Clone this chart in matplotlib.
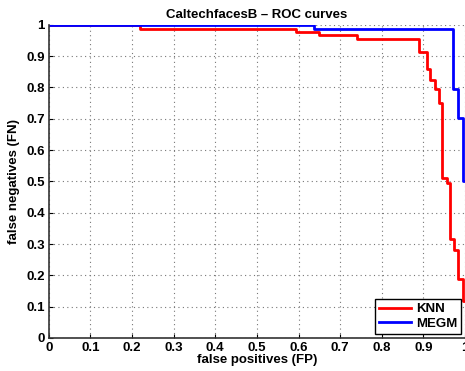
import matplotlib
matplotlib.use("Agg")
import matplotlib.pyplot as plt
import numpy as np

# ROC step curves (false positives vs false negatives)
knn_fp = [0, 0.219, 0.593, 0.649, 0.741, 0.889, 0.908, 0.917, 0.928, 0.937,
          0.945, 0.956, 0.965, 0.974, 0.983, 0.994, 1.0]
knn_fn = [1, 0.988, 0.978, 0.967, 0.955, 0.913, 0.858, 0.825, 0.795, 0.75,
          0.51, 0.494, 0.316, 0.281, 0.188, 0.119, 0.119]

megm_fp = [0, 0.638, 0.972, 0.982, 0.994, 1.0]
megm_fn = [1, 0.988, 0.795, 0.704, 0.5, 0.5]

ticks = np.round(np.arange(0, 1.01, 0.1), 1)
tick_labels = ['0'] + ['%.1f' % t for t in ticks[1:-1]] + ['1']

plt.rcParams['font.family'] = ['Liberation Sans', 'DejaVu Sans']
plt.rcParams['font.weight'] = 'bold'

fig = plt.figure(figsize=(4.65, 3.71), dpi=100)
ax = fig.add_axes([0.105, 0.089, 0.895, 0.844])

ax.plot(knn_fp, knn_fn, drawstyle='steps-post', color='#ff0000', lw=2, label='KNN')
ax.plot(megm_fp, megm_fn, drawstyle='steps-post', color='#0000ff', lw=2, label='MEGM')

ax.set_xlim(0, 1)
ax.set_ylim(0, 1)
ax.set_xticks(ticks)
ax.set_yticks(ticks)
ax.set_xticklabels(tick_labels, fontsize=9.5, fontweight='bold')
ax.set_yticklabels(tick_labels, fontsize=9.5, fontweight='bold')
ax.tick_params(direction='in', length=3, pad=3)
ax.grid(True, linestyle=(0, (1, 3)), color='#777777', lw=0.8)

for s in ['top', 'right']:
    ax.spines[s].set_visible(False)
for s in ['left', 'bottom']:
    ax.spines[s].set_linewidth(1.2)
    ax.spines[s].set_color('#333333')

ax.set_title('CaltechfacesB \u2013 ROC curves', fontsize=9.5, fontweight='bold', pad=5)
ax.set_xlabel('false positives (FP)', fontsize=9.5, fontweight='bold', labelpad=0)
ax.set_ylabel('false negatives (FN)', fontsize=9.5, fontweight='bold', labelpad=4)

leg = ax.legend(loc='lower right', fontsize=9.5, handlelength=2.4, borderpad=0.3,
                labelspacing=0.2, fancybox=False, framealpha=1, edgecolor='black',
                borderaxespad=0.3, handletextpad=0.4)
leg.get_frame().set_linewidth(1)

fig.savefig('out.png', dpi=100)
